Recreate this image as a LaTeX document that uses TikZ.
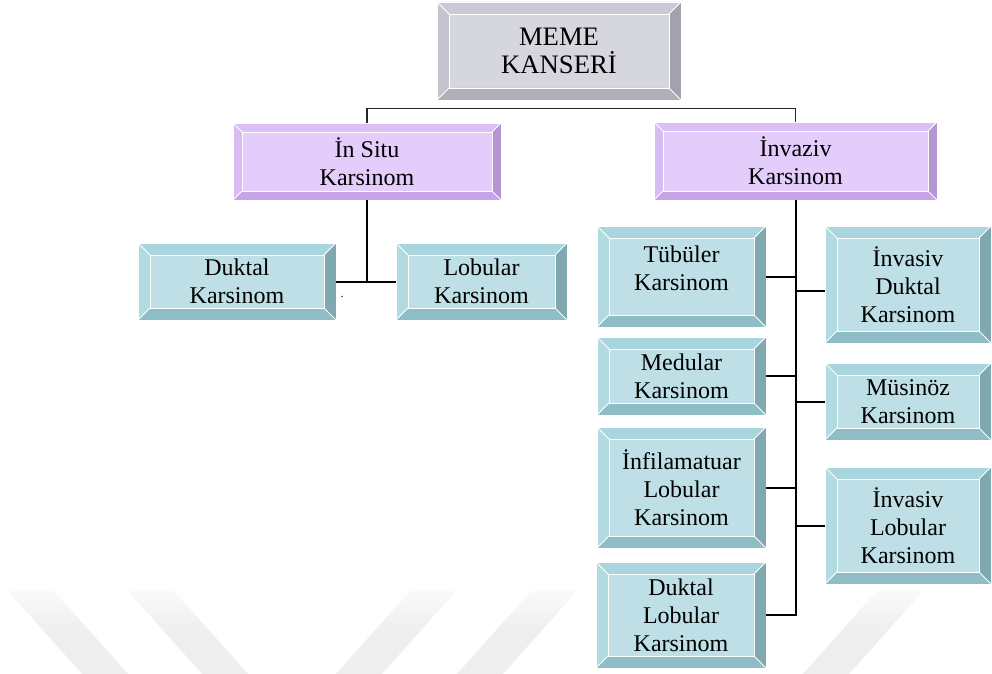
\documentclass[tikz,border=0pt]{standalone}
\usepackage{fontspec}
\setmainfont{Liberation Serif}
\begin{document}
% Box colours: face, top, left, bottom and right bevel
\definecolor{tface}{HTML}{BDDFE5}
\definecolor{ttop}{HTML}{A9D6DE}
\definecolor{tleft}{HTML}{B2DBE1}
\definecolor{tbot}{HTML}{8FBDC5}
\definecolor{tright}{HTML}{7FA8AF}
\definecolor{pface}{HTML}{E4CCFB}
\definecolor{ptop}{HTML}{DBBFF6}
\definecolor{pleft}{HTML}{D8BCF4}
\definecolor{pbot}{HTML}{C7A4E6}
\definecolor{pright}{HTML}{B396D2}
\definecolor{gface}{HTML}{D6D6DF}
\definecolor{gtop}{HTML}{CACAD4}
\definecolor{gleft}{HTML}{C4C4CF}
\definecolor{gbot}{HTML}{B0B0BA}
\definecolor{gright}{HTML}{A2A2AC}
\definecolor{wmarktop}{HTML}{FAFAFA}
\definecolor{wmark}{HTML}{EEEEEE}
% Bevelled frame painted inside a node: colours of top, left, bottom, right, bevel width
\newcommand\bevelpaint[5]{%
  \path (path picture bounding box.north west) coordinate (pNW)
        (path picture bounding box.north east) coordinate (pNE)
        (path picture bounding box.south west) coordinate (pSW)
        (path picture bounding box.south east) coordinate (pSE);
  \path ([shift={(#5,-#5)}]pNW) coordinate (qNW)
        ([shift={(-#5,-#5)}]pNE) coordinate (qNE)
        ([shift={(#5,#5)}]pSW) coordinate (qSW)
        ([shift={(-#5,#5)}]pSE) coordinate (qSE);
  \fill[#1] (pNW) -- (pNE) -- (qNE) -- (qNW) -- cycle;
  \fill[#2] (pNW) -- (qNW) -- (qSW) -- (pSW) -- cycle;
  \fill[#3] (pSW) -- (qSW) -- (qSE) -- (pSE) -- cycle;
  \fill[#4] (pNE) -- (pSE) -- (qSE) -- (qNE) -- cycle;
  \draw[white, line width=0.6pt] (qNW) rectangle (qSE);
  \draw[white, line width=0.6pt] (pNW) -- (qNW) (pNE) -- (qNE) (pSW) -- (qSW) (pSE) -- (qSE);
}
\tikzset{
  sz/.style 2 args={minimum width=#1*0.75pt, minimum height=#2*0.75pt},
  bevbox/.style={rectangle, inner sep=0pt, align=center, draw=white, line width=0.5pt,
    font=\fontsize{18pt}{21pt}\selectfont},
  tealbox/.style={bevbox, fill=tface, path picture={\bevelpaint{ttop}{tleft}{tbot}{tright}{9pt}}},
  lilacbox/.style={bevbox, fill=pface, path picture={\bevelpaint{ptop}{pleft}{pbot}{pright}{6.75pt}}},
  greybox/.style={bevbox, fill=gface, font=\fontsize{20pt}{21pt}\selectfont,
    path picture={\bevelpaint{gtop}{gleft}{gbot}{gright}{9pt}}},
  conn/.style={line width=1.5pt, black},
  thinconn/.style={line width=0.8pt, black!85},
  stripe/.style={draw=none, top color=wmarktop, bottom color=wmark, middle color=wmark},
}
\begin{tikzpicture}[x={(0.75pt,0)}, y={(0,-0.75pt)}]
\useasboundingbox (0,0) rectangle (992,674);
\fill[white] (0,0) rectangle (992,674);

% faint diagonal background bands
\path[stripe] (8,591) -- (54,591) -- (128,674) -- (82,674) -- cycle;
\path[stripe] (128,591) -- (174,591) -- (248,674) -- (202,674) -- cycle;
\path[stripe] (410,591) -- (456,591) -- (382,674) -- (336,674) -- cycle;
\path[stripe] (531,591) -- (577,591) -- (503,674) -- (457,674) -- cycle;
\path[stripe] (877,591) -- (923,591) -- (849,674) -- (803,674) -- cycle;

% root
\node[greybox, sz={244}{98}] (meme) at (559,51) {MEME\\KANSERİ};

% second level
\node[lilacbox, sz={268}{77}] (insitu) at (367,161.5) {İn Situ\\Karsinom};
\node[lilacbox, sz={283}{78}] (invaziv) at (795.5,161) {İnvaziv\\Karsinom};

% in situ types
\node[tealbox, sz={198}{77}] (duktal) at (237,281.5) {Duktal\\Karsinom};
\node[tealbox, sz={171}{77}] (lobular) at (481.5,281.5) {Lobular\\Karsinom};
\node[font=\fontsize{9pt}{9pt}\selectfont, inner sep=0pt] (dot) at (342,297) {.};

% invasive types, left column
\node[tealbox, sz={169}{101}] (tubuler) at (681.5,276.5) {Tübüler\\Karsinom\\[-9pt]\mbox{}};
\node[tealbox, sz={169}{78}] (medular) at (681.5,376) {Medular\\Karsinom};
\node[tealbox, sz={169}{121}] (infil) at (681.5,487.5) {İnfilamatuar\\Lobular\\Karsinom};
\node[tealbox, sz={170}{106}] (duklob) at (681,615) {Duktal\\Lobular\\Karsinom};

% invasive types, right column
\node[tealbox, sz={166}{117}] (invduk) at (908,284.5) {İnvasiv\\Duktal\\Karsinom};
\node[tealbox, sz={166}{77}] (musinoz) at (908,401.5) {Müsinöz\\Karsinom};
\node[tealbox, sz={166}{117}] (invlob) at (908,525.5) {İnvasiv\\Lobular\\Karsinom};

% connectors
\draw[thinconn] (insitu.north) -- ++(0,-14) -| (invaziv.north);
\draw[conn] (insitu.south) -- (insitu.south |- duktal.east);
\draw[conn] (duktal.east) -- (lobular.west);
\draw[conn] (invaziv.south) |- (duklob.east);
\draw[conn] (tubuler.east) -- (tubuler.east -| invaziv.south);
\draw[conn] (medular.east) -- (medular.east -| invaziv.south);
\draw[conn] (infil.east) -- (infil.east -| invaziv.south);
\draw[conn] ([yshift=-5pt]invduk.west) -- ([yshift=-5pt]invduk.west -| invaziv.south);
\draw[conn] (musinoz.west) -- (musinoz.west -| invaziv.south);
\draw[conn] (invlob.west) -- (invlob.west -| invaziv.south);
\end{tikzpicture}
\end{document}
